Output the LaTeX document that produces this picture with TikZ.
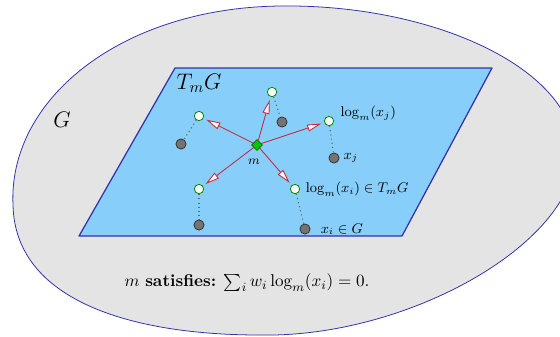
\documentclass[tikz,border=0pt]{standalone}
\usepackage{amsmath,amssymb}
\usepackage{xcolor}
\usepackage{tikz}
\usetikzlibrary{arrows.meta, positioning, shapes.geometric}

\definecolor{fundo}{RGB}{228,228,228}
\definecolor{plano}{RGB}{135,206,250}
\definecolor{contorno}{RGB}{50,50,170}
\definecolor{vermelho}{RGB}{200,40,60}
\definecolor{verde}{RGB}{0,200,0}

\begin{document}
\begin{tikzpicture}[
    x=0.0225cm, y=-0.0225cm,
    >=Latex,
    variedade/.style={draw=contorno, fill=fundo, line width=0.5pt},
    tangente/.style={draw=contorno, fill=plano, line width=0.8pt, line join=round},
    media/.style={diamond, draw=green!40!black, fill=verde, inner sep=0pt, minimum size=7pt, line width=0.4pt},
    projecao/.style={circle, draw=green!55!black, fill=white, inner sep=0pt, minimum size=6pt, line width=0.5pt},
    amostra/.style={circle, draw=black!80, fill=black!55, inner sep=0pt, minimum size=6.5pt, line width=0.5pt},
    rotulo/.style={font=\small, inner sep=1pt},
    seta/.style={-{Triangle[fill=white, length=9pt, width=4.5pt]}, draw=vermelho, line width=0.55pt, shorten >=2pt},
    ligacao/.style={dotted, draw=black!60, line width=0.7pt}
]

\useasboundingbox (0,0) rectangle (560,336);
\clip (0,0) rectangle (560,336);

% variedade G e plano tangente
\draw[variedade] (280,6) .. controls (430,4) and (570,66) .. (575,150)
    .. controls (580,240) and (410,338) .. (260,335)
    .. controls (130,335) and (15,300) .. (13,205)
    .. controls (8,100) and (120,8) .. cycle;
\draw[tangente] (175,68) -- (492,68) -- (402,236) -- (79,236) -- cycle;

\node[font=\Large] (tmg) at (199,83) {$T_mG$};
\node[font=\Large] (g) at (62,120) {$G$};

% media e pontos
\node[media] (media) at (257,145) {};
\node[projecao] (log1) at (272,92) {};
\node[projecao] (log2) at (199,116) {};
\node[projecao] (log3) at (329,121) {};
\node[projecao] (log4) at (199,189) {};
\node[projecao] (log5) at (295,189) {};
\node[amostra] (ponto1) at (282,122) {};
\node[amostra] (ponto2) at (181,144) {};
\node[amostra] (ponto3) at (334,158) {};
\node[amostra] (ponto4) at (199,225) {};
\node[amostra] (ponto5) at (305,229) {};

\draw[ligacao] (log1) -- (ponto1);
\draw[ligacao] (log2) -- (ponto2);
\draw[ligacao] (log3) -- (ponto3);
\draw[ligacao] (log4) -- (ponto4);
\draw[ligacao] (log5) -- (ponto5);

\draw[seta] (media) -- (log1);
\draw[seta] (media) -- (log2);
\draw[seta] (media) -- (log3);
\draw[seta] (media) -- (log4);
\draw[seta] (media) -- (log5);

% rotulos
\node[rotulo, font=\footnotesize, below=4pt of media, xshift=-2pt] (txm) {$m$};
\node[rotulo, right=3pt of log3, yshift=5pt] (txlogj) {$\log_m(x_j)$};
\node[rotulo, right=1.5pt of ponto3] (txxj) {$x_j$};
\node[rotulo, right=2.5pt of log5] (txlogi) {$\log_m(x_i)\in T_mG$};
\node[rotulo, right=5.4pt of ponto5] (txxi) {$x_i\in G$};

\node[font=\fontsize{10.9}{13}\selectfont] (condicao) at (247,283) {$m$ \textbf{satisfies:} $\sum_i w_i \log_m(x_i) = 0.$};

\end{tikzpicture}
\end{document}
